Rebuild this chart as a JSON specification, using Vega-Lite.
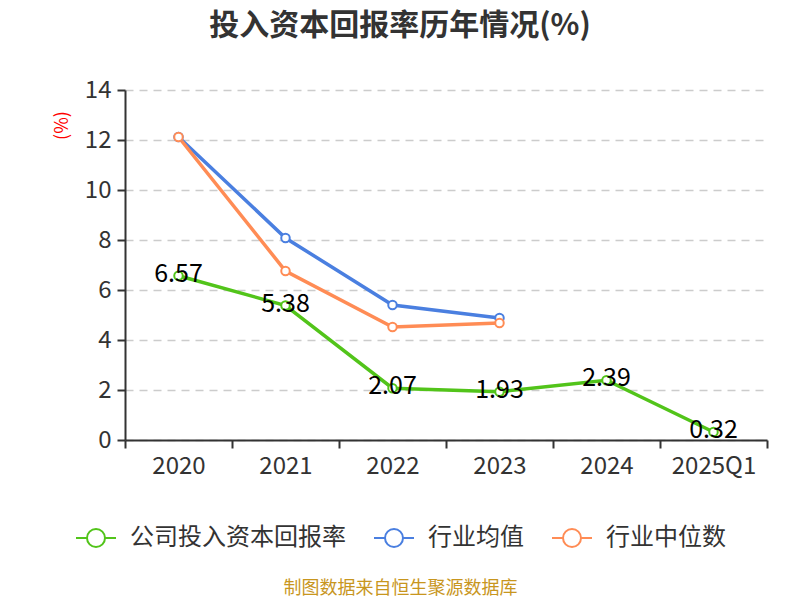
{
  "$schema": "https://vega.github.io/schema/vega-lite/v6.json",
  "width": 642,
  "height": 350,
  "autosize": {"type": "none"},
  "padding": {"left": 125, "top": 90, "right": 33, "bottom": 160},
  "background": "white",
  "config": {
    "font": "Noto Sans CJK SC",
    "view": {"stroke": null}
  },
  "title": {
    "text": "投入资本回报率历年情况(%)",
    "fontSize": 30,
    "fontWeight": "bold",
    "color": "#333333",
    "anchor": "middle",
    "dx": -46,
    "offset": 37
  },
  "data": {
    "values": [
      {"year": "2020", "series": "公司投入资本回报率", "value": 6.57},
      {"year": "2021", "series": "公司投入资本回报率", "value": 5.38},
      {"year": "2022", "series": "公司投入资本回报率", "value": 2.07},
      {"year": "2023", "series": "公司投入资本回报率", "value": 1.93},
      {"year": "2024", "series": "公司投入资本回报率", "value": 2.39},
      {"year": "2025Q1", "series": "公司投入资本回报率", "value": 0.32},
      {"year": "2020", "series": "行业均值", "value": 12.12},
      {"year": "2021", "series": "行业均值", "value": 8.08},
      {"year": "2022", "series": "行业均值", "value": 5.4},
      {"year": "2023", "series": "行业均值", "value": 4.88},
      {"year": "2020", "series": "行业中位数", "value": 12.12},
      {"year": "2021", "series": "行业中位数", "value": 6.76},
      {"year": "2022", "series": "行业中位数", "value": 4.52},
      {"year": "2023", "series": "行业中位数", "value": 4.68}
    ]
  },
  "encoding": {
    "x": {
      "field": "year",
      "type": "nominal",
      "sort": ["2020", "2021", "2022", "2023", "2024", "2025Q1"],
      "scale": {"domain": ["2020", "2021", "2022", "2023", "2024", "2025Q1"], "paddingInner": 0, "paddingOuter": 0},
      "axis": {
        "title": "制图数据来自恒生聚源数据库",
        "titleColor": "#c8961e",
        "titleFontSize": 18,
        "titleFontWeight": "normal",
        "titleX": 275,
        "titleY": 148,
        "titleAlign": "center",
        "titleBaseline": "middle",
        "labelAngle": 0,
        "labelFontSize": 24,
        "labelColor": "#333333",
        "labelPadding": 6,
        "domainColor": "#333333",
        "domainWidth": 2,
        "tickColor": "#333333",
        "tickWidth": 2,
        "tickSize": 8,
        "tickBand": "extent",
        "grid": false
      }
    },
    "y": {
      "field": "value",
      "type": "quantitative",
      "scale": {"domain": [0, 14]},
      "axis": {
        "title": "(%)",
        "titleColor": "#ff0000",
        "titleFontSize": 18,
        "titleFontWeight": "normal",
        "titleAngle": 270,
        "titleX": -63,
        "titleY": 35,
        "titleAlign": "center",
        "titleBaseline": "middle",
        "values": [0, 2, 4, 6, 8, 10, 12, 14],
        "labelFontSize": 24,
        "labelColor": "#333333",
        "labelPadding": 6,
        "domainColor": "#333333",
        "domainWidth": 2,
        "tickColor": "#333333",
        "tickWidth": 2,
        "tickSize": 8,
        "grid": true,
        "gridColor": "#cccccc",
        "gridDash": [8, 6],
        "gridWidth": 1.5
      }
    }
  },
  "layer": [
    {
      "mark": {"type": "line", "strokeWidth": 3.5, "point": {"filled": false, "fill": "white", "size": 72, "strokeWidth": 2, "opacity": 1}},
      "encoding": {
        "color": {
          "field": "series",
          "type": "nominal",
          "scale": {
            "domain": ["公司投入资本回报率", "行业均值", "行业中位数"],
            "range": ["#52c41a", "#4a7fe0", "#ff8c55"]
          },
          "legend": {
            "title": null,
            "orient": "none",
            "direction": "horizontal",
            "legendX": -50,
            "legendY": 427,
            "symbolType": "M-1,0L-0.45,0M0.45,0L1,0M-0.45,0A0.45,0.45 0 1 1 0.45,0A0.45,0.45 0 1 1 -0.45,0",
            "symbolSize": 1600,
            "symbolStrokeWidth": 2,
            "symbolFillColor": "white",
            "symbolOpacity": 1,
            "labelFontSize": 24,
            "labelColor": "#333333",
            "labelOffset": 13,
            "labelLimit": 400,
            "columnPadding": 24
          }
        }
      }
    },
    {
      "transform": [{"filter": "datum.series === '公司投入资本回报率'"}],
      "mark": {"type": "text", "fontSize": 25, "color": "#000000", "baseline": "middle", "dy": -2},
      "encoding": {
        "text": {"field": "value", "type": "quantitative", "format": ".2f"}
      }
    }
  ]
}
